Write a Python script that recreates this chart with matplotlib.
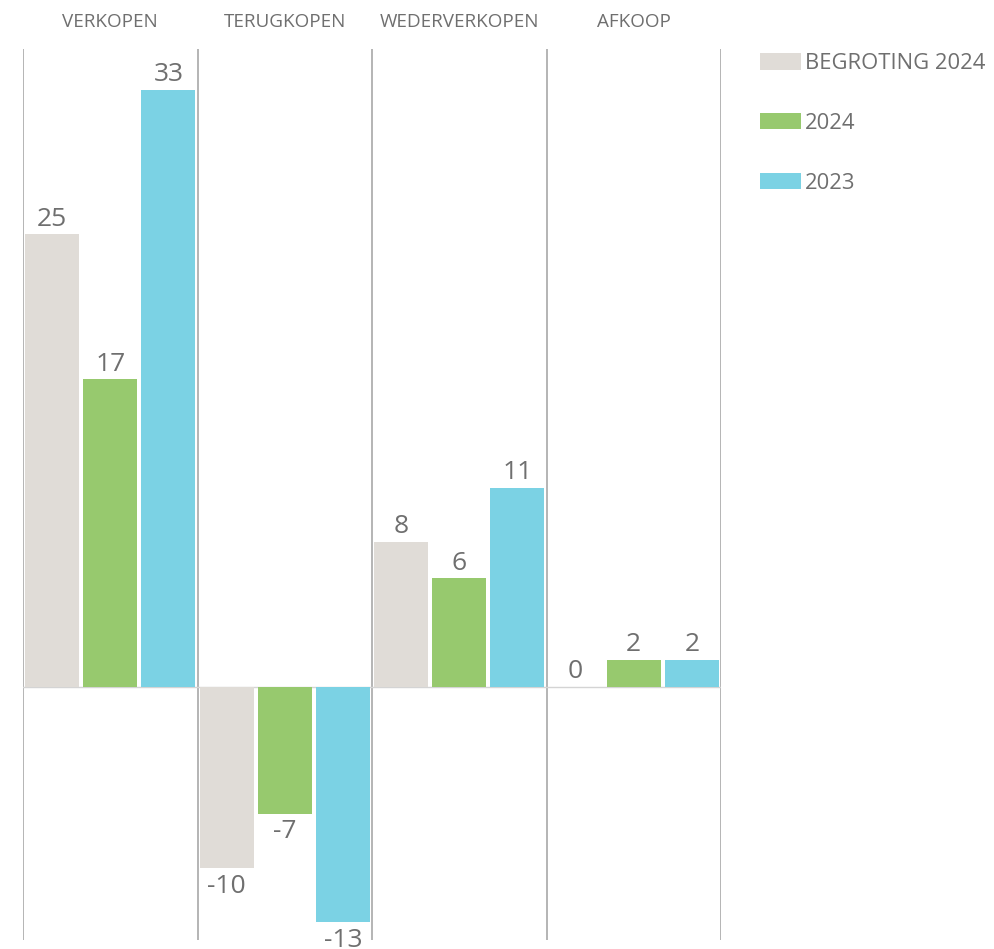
import matplotlib
matplotlib.use("Agg")
from matplotlib import pyplot
from matplotlib.patches import Patch
import numpy as np

# DATA
categories = ["VERKOPEN", "TERUGKOPEN", "WEDERVERKOPEN", "AFKOOP"]
series_names = ["BEGROTING 2024", "2024", "2023"]
begroting_2024 = [25, -10, 8, 0]
jaar_2024 = [17, -7, 6, 1.5]
jaar_2023 = [33, -13, 11, 1.5]
series_values = [begroting_2024, jaar_2024, jaar_2023]

# STYLE
COLS = ["#e0dcd7", "#97c96e", "#7bd2e4"]
TXT = "#6f6f6f"
LINE = "#a8a8a8"
pyplot.rcParams["font.family"] = ["Open Sans", "DejaVu Sans"]

W, H = 994, 949
dpi = 100.0
fig = pyplot.figure(figsize=(W / dpi, H / dpi), dpi=dpi)
fig.patch.set_facecolor("white")

# axes placed in pixel terms
left, right, top, bottom = 23, 721, 49, 940
ax = fig.add_axes([left / W, 1 - bottom / H, (right - left) / W, (bottom - top) / H])
ax.set_xlim(0, len(categories))
ppu = 18.1  # pixels per unit
zero = 687
ax.set_ylim(-(bottom - zero) / ppu, (zero - top) / ppu)
ax.set_axis_off()

# bars
x = np.arange(len(categories)) + 0.5
offsets = [-1 / 3, 0, 1 / 3]
width = 0.31
for vals, off, col in zip(series_values, offsets, COLS):
	bars = ax.bar(x + off, vals, width=width, color=col, zorder=2)
	for b, v in zip(bars, vals):
		lab = "%.0f" % v
		if v >= 0:
			ax.annotate(lab, xy=(b.get_x() + b.get_width() / 2, v), xytext=(0, 2),
						textcoords="offset points", ha="center", va="bottom",
						fontsize=19, color=TXT)
		else:
			ax.annotate(lab, xy=(b.get_x() + b.get_width() / 2, v), xytext=(0, -4),
						textcoords="offset points", ha="center", va="top",
						fontsize=19, color=TXT)

# panel separators and zero line
for i in range(len(categories) + 1):
	ax.axvline(i, color=LINE, lw=1.2, zorder=1)
ax.axhline(0, color="#d4d4d4", lw=1, zorder=1)

# headers
for xi, cat in zip(x, categories):
	ax.text(xi, 1 + 27 / (bottom - top), cat, transform=ax.get_xaxis_transform(),
			ha="center", va="center", fontsize=13.6, color=TXT)

# legend
handles = [Patch(facecolor=c, edgecolor="none") for c in COLS]
fig.legend(handles, series_names, loc="upper left", bbox_to_anchor=(760 / W, 1 - 53 / H),
		   frameon=False, fontsize=15.8, labelcolor=TXT, borderpad=0, borderaxespad=0,
		   handlelength=1.85, handleheight=0.78, handletextpad=0.2, labelspacing=1.77)

fig.savefig("out.png", dpi=dpi)
